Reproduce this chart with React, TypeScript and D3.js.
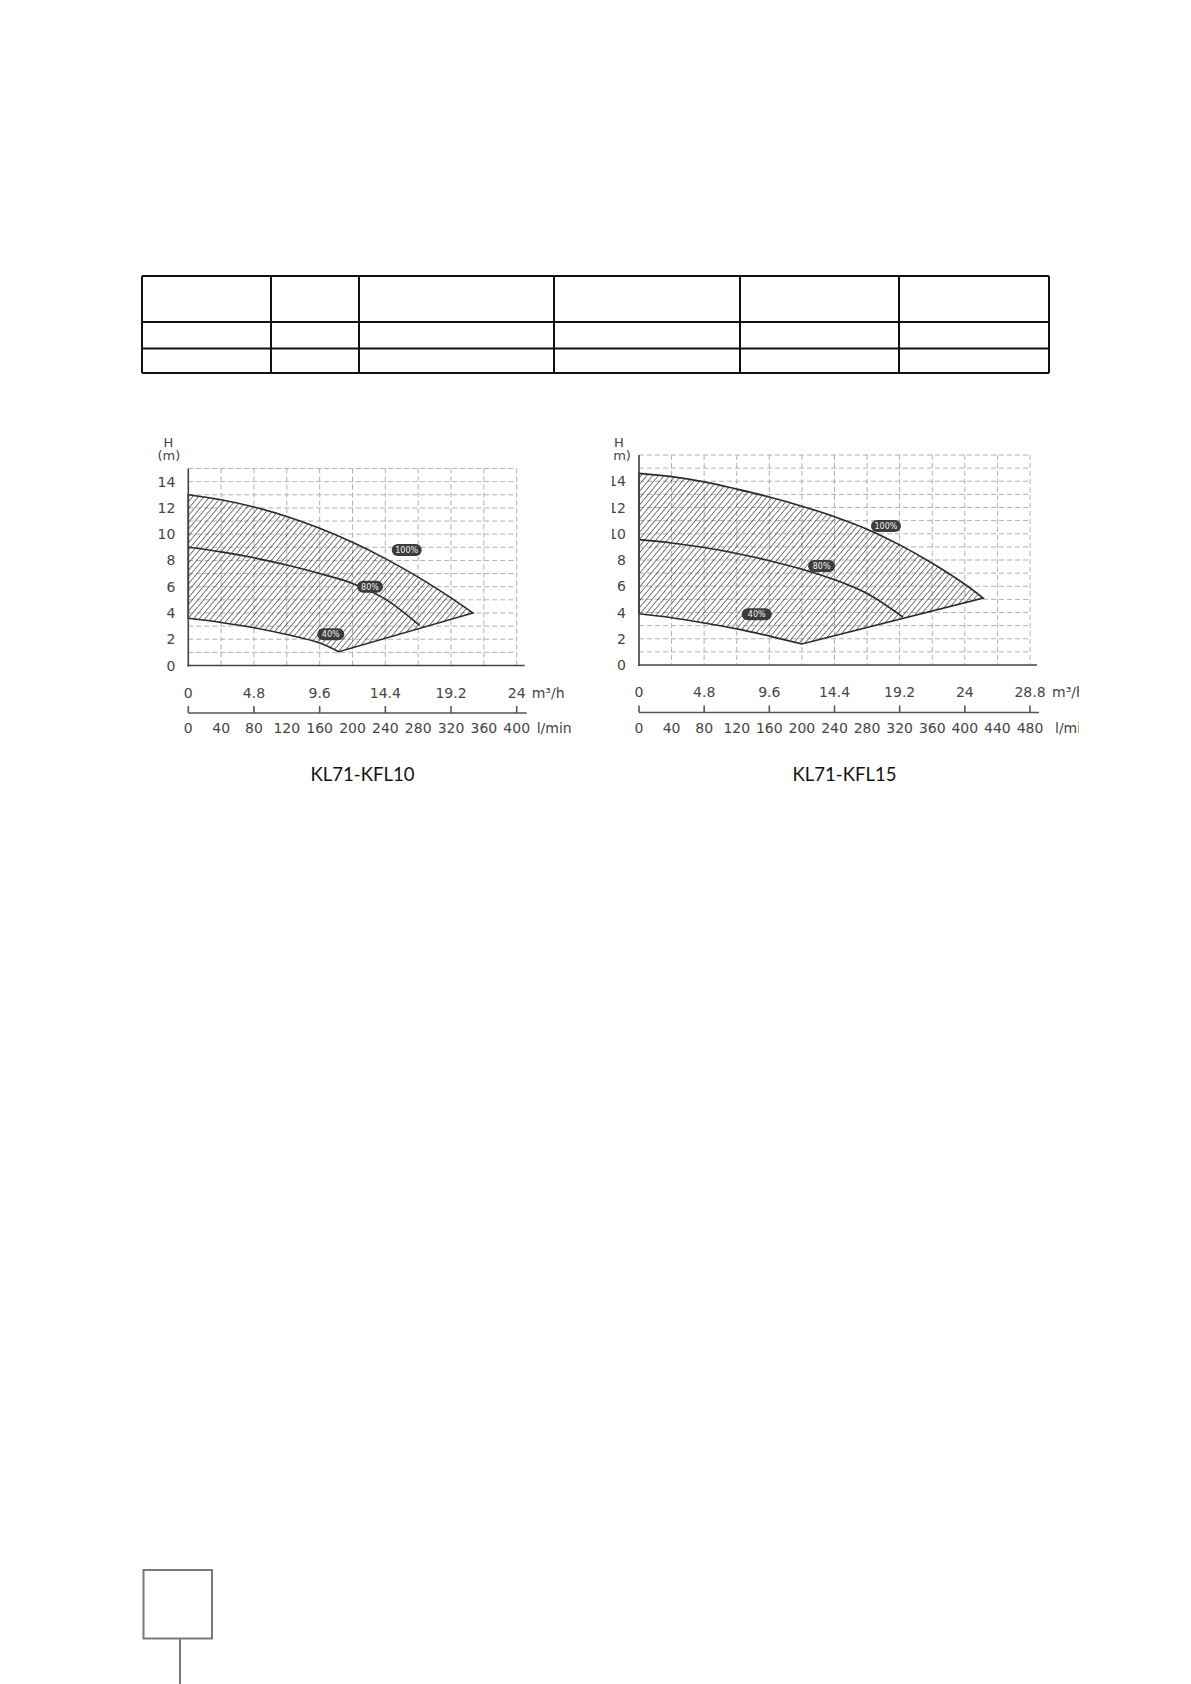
import React from "react";
import * as d3 from "d3";

type Pt = [number, number];

// Head axis ticks (m)
const headTicks = [0, 2, 4, 6, 8, 10, 12, 14];

// KL71-KFL10 axes
const kfl10FlowTicks = [0, 4.8, 9.6, 14.4, 19.2, 24];
const kfl10LminTicks = [0, 40, 80, 120, 160, 200, 240, 280, 320, 360, 400];

// KL71-KFL10 pump curves (flow m³/h, head m)
const kfl10Curve100: Pt[] = [
  [0, 13.0], [2.4, 12.62], [4.8, 12.07], [7.2, 11.35], [9.6, 10.45],
  [12, 9.38], [14.4, 8.14], [16.8, 6.73], [19.2, 5.15], [20.8, 4.0],
];
const kfl10Curve80: Pt[] = [
  [0, 9.0], [2.4, 8.65], [4.8, 8.2], [7.2, 7.65], [9.6, 7.0],
  [12, 6.25], [14.4, 5.05], [16.9, 3.05],
];
const kfl10Curve40: Pt[] = [
  [0, 3.6], [2.4, 3.28], [4.8, 2.88], [7.2, 2.36], [9.6, 1.72], [11.0, 1.05],
];

// KL71-KFL15 axes
const kfl15FlowTicks = [0, 4.8, 9.6, 14.4, 19.2, 24, 28.8];
const kfl15LminTicks = [0, 40, 80, 120, 160, 200, 240, 280, 320, 360, 400, 440, 480];

// KL71-KFL15 pump curves (flow m³/h, head m)
const kfl15Curve100: Pt[] = [
  [0, 14.6], [2.4, 14.35], [4.8, 13.95], [7.2, 13.4], [9.6, 12.8],
  [12, 12.1], [14.4, 11.3], [16.8, 10.35], [19.2, 9.15], [21.6, 7.75],
  [24, 6.15], [25.35, 5.1],
];
const kfl15Curve80: Pt[] = [
  [0, 9.55], [2.4, 9.3], [4.8, 8.95], [7.2, 8.5], [9.6, 7.95],
  [12, 7.3], [14.4, 6.5], [16.8, 5.45], [19.45, 3.65],
];
const kfl15Curve40: Pt[] = [
  [0, 3.9], [2.4, 3.6], [4.8, 3.2], [7.2, 2.75], [9.6, 2.2], [12, 1.6],
];

const speedLabels = ["100%", "80%", "40%"];

// Table grid lines
const tableCols = [142, 271, 359, 554, 740, 899, 1049];
const tableRows = [276, 322, 348.5, 373];

const TICK_FONT = "'DejaVu Sans', sans-serif";
const TICK_SIZE = 14;

interface ChartProps {
  id: string;
  title: string;
  xMax: number;
  yMax: number;
  xRange: [number, number];
  yRange: [number, number];
  flowTicks: number[];
  lminTicks: number[];
  lminMax: number;
  c100: Pt[];
  c80: Pt[];
  c40: Pt[];
  labelAt: Pt[];
  labelW: number[];
  axisExtend: number;
  flowUnitGap: number;
  lminUnitGap: number;
  clip?: [number, number];
}

function PumpChart(p: ChartProps) {
  const x = d3.scaleLinear().domain([0, p.xMax]).range(p.xRange);
  const y = d3.scaleLinear().domain([0, p.yMax]).range(p.yRange);
  const xl = d3.scaleLinear().domain([0, p.lminMax]).range(p.xRange);
  const line = d3
    .line<Pt>()
    .x((d) => x(d[0]))
    .y((d) => y(d[1]))
    .curve(d3.curveCatmullRom.alpha(0.5));

  const top = line(p.c100) as string;
  const lowerRev = (line([...p.c40].reverse()) as string).replace(/^M/, "L");
  const region = top + lowerRev + "Z";

  const gridX = d3.range(0, p.xMax + 0.001, 2.4);
  const gridY = d3.range(1, p.yMax + 0.001, 1);
  const x0 = p.xRange[0];
  const x1 = p.xRange[1];
  const y0 = p.yRange[0];
  const y1 = p.yRange[1];
  const base2 = y0 + 47.5;

  const clipId = `clip-${p.id}`;
  const hatchId = `hatch-${p.id}`;

  return (
    <g>
      <defs>
        <pattern
          id={hatchId}
          width={4.4}
          height={4.4}
          patternUnits="userSpaceOnUse"
          patternTransform="rotate(40)"
        >
          <line x1={0} y1={0} x2={0} y2={4.4} stroke="#333" strokeWidth={1.3} />
        </pattern>
        {p.clip && (
          <clipPath id={clipId}>
            <rect x={p.clip[0]} y={380} width={p.clip[1] - p.clip[0]} height={380} />
          </clipPath>
        )}
      </defs>
      <g clipPath={p.clip ? `url(#${clipId})` : undefined}>
        {/* grid */}
        {gridY.map((v) => (
          <line
            key={`gy${v}`}
            x1={x0}
            x2={x1}
            y1={y(v)}
            y2={y(v)}
            stroke="#b0b0b0"
            strokeWidth={1}
            strokeDasharray="5,3"
          />
        ))}
        {gridX.map((v) => (
          <line
            key={`gx${v}`}
            x1={x(v)}
            x2={x(v)}
            y1={y1}
            y2={y0}
            stroke="#b0b0b0"
            strokeWidth={1}
            strokeDasharray="5,3"
          />
        ))}

        {/* operating range */}
        <path d={region} fill={`url(#${hatchId})`} stroke="#2a2a2a" strokeWidth={1.6} />
        <path d={line(p.c80) as string} fill="none" stroke="#2a2a2a" strokeWidth={1.6} />

        {/* speed labels */}
        {p.labelAt.map((pt, i) => (
          <g key={`lab${i}`} transform={`translate(${x(pt[0])},${y(pt[1])})`}>
            <rect
              x={-p.labelW[i] / 2}
              y={-6}
              width={p.labelW[i]}
              height={12}
              rx={6}
              fill="#3c3c3c"
            />
            <text
              textAnchor="middle"
              dy="0.35em"
              fontSize={8}
              fill="#f2f2f2"
              fontFamily={TICK_FONT}
            >
              {speedLabels[i]}
            </text>
          </g>
        ))}

        {/* axes */}
        <line x1={x0} x2={x0} y1={y1} y2={y0 + 1} stroke="#444" strokeWidth={1.6} />
        <line x1={x0 - 1} x2={x1 + p.axisExtend} y1={y0} y2={y0} stroke="#444" strokeWidth={1.6} />

        {headTicks.map((v) => (
          <text
            key={`yt${v}`}
            x={x0 - 13}
            y={y(v)}
            dy="0.36em"
            textAnchor="end"
            fontSize={TICK_SIZE}
            fill="#454545"
            fontFamily={TICK_FONT}
          >
            {v}
          </text>
        ))}
        <text x={x0 - 20} y={446.5} textAnchor="middle" fontSize={13} fill="#444" fontFamily={TICK_FONT}>
          H
        </text>
        <text x={x0 - 19.5} y={460} textAnchor="middle" fontSize={13} fill="#444" fontFamily={TICK_FONT}>
          (m)
        </text>

        {/* m³/h scale */}
        {p.flowTicks.map((v) => (
          <text
            key={`ft${v}`}
            x={x(v)}
            y={y0 + 27}
            dy="0.36em"
            textAnchor="middle"
            fontSize={TICK_SIZE}
            fill="#454545"
            fontFamily={TICK_FONT}
          >
            {v}
          </text>
        ))}
        <text
          x={x1 + p.flowUnitGap}
          y={y0 + 27}
          dy="0.36em"
          fontSize={TICK_SIZE}
          fill="#454545"
          fontFamily={TICK_FONT}
        >
          m³/h
        </text>

        {/* l/min scale */}
        <line x1={x0} x2={x1 + p.axisExtend + 2} y1={base2} y2={base2} stroke="#555" strokeWidth={1.6} />
        {p.flowTicks.map((v) => (
          <line
            key={`tk${v}`}
            x1={x(v)}
            x2={x(v)}
            y1={base2}
            y2={base2 - 7}
            stroke="#555"
            strokeWidth={1.6}
          />
        ))}
        {p.lminTicks.map((v) => (
          <text
            key={`lt${v}`}
            x={xl(v)}
            y={base2 + 15}
            dy="0.36em"
            textAnchor="middle"
            fontSize={TICK_SIZE}
            fill="#454545"
            fontFamily={TICK_FONT}
          >
            {v}
          </text>
        ))}
        <text
          x={x1 + p.lminUnitGap}
          y={base2 + 15}
          dy="0.36em"
          fontSize={TICK_SIZE}
          fill="#454545"
          fontFamily={TICK_FONT}
        >
          l/min
        </text>
      </g>
      <text
        x={(x0 + x1) / 2 + 10}
        y={781}
        textAnchor="middle"
        fontSize={18.5}
        fill="#111"
        fontFamily="Lato, 'Open Sans', sans-serif"
      >
        {p.title}
      </text>
    </g>
  );
}

export default function App() {
  return (
    <svg
      width={1191}
      height={1684}
      viewBox="0 0 1191 1684"
      style={{ position: "absolute", left: 0, top: 0, background: "#fff" }}
    >
      <rect width={1191} height={1684} fill="#fff" />

      {/* empty specification table */}
      <g stroke="#111" strokeWidth={2}>
        {tableRows.map((r) => (
          <line key={`r${r}`} x1={tableCols[0]} x2={tableCols[tableCols.length - 1]} y1={r} y2={r} />
        ))}
        {tableCols.map((c) => (
          <line key={`c${c}`} x1={c} x2={c} y1={tableRows[0]} y2={tableRows[tableRows.length - 1]} />
        ))}
      </g>

      <PumpChart
        id="kfl10"
        title="KL71-KFL10"
        xMax={24}
        yMax={15}
        xRange={[188.3, 516.7]}
        yRange={[665.5, 468.5]}
        flowTicks={kfl10FlowTicks}
        lminTicks={kfl10LminTicks}
        lminMax={400}
        c100={kfl10Curve100}
        c80={kfl10Curve80}
        c40={kfl10Curve40}
        labelAt={[[15.96, 8.8], [13.28, 6.0], [10.41, 2.38]]}
        labelW={[30, 26, 27]}
        axisExtend={8}
        flowUnitGap={15}
        lminUnitGap={20}
      />

      <PumpChart
        id="kfl15"
        title="KL71-KFL15"
        xMax={28.8}
        yMax={16}
        xRange={[639, 1030]}
        yRange={[665, 455]}
        flowTicks={kfl15FlowTicks}
        lminTicks={kfl15LminTicks}
        lminMax={480}
        c100={kfl15Curve100}
        c80={kfl15Curve80}
        c40={kfl15Curve40}
        labelAt={[[18.19, 10.59], [13.45, 7.54], [8.67, 3.86]]}
        labelW={[30, 27, 30]}
        axisExtend={7}
        flowUnitGap={22}
        lminUnitGap={25}
        clip={[612, 1079]}
      />

      {/* page marker */}
      <rect x={143.5} y={1570} width={68.5} height={68.5} fill="none" stroke="#7a7a7a" strokeWidth={2} />
      <line x1={180} x2={180} y1={1638.5} y2={1684} stroke="#7a7a7a" strokeWidth={2} />
    </svg>
  );
}
